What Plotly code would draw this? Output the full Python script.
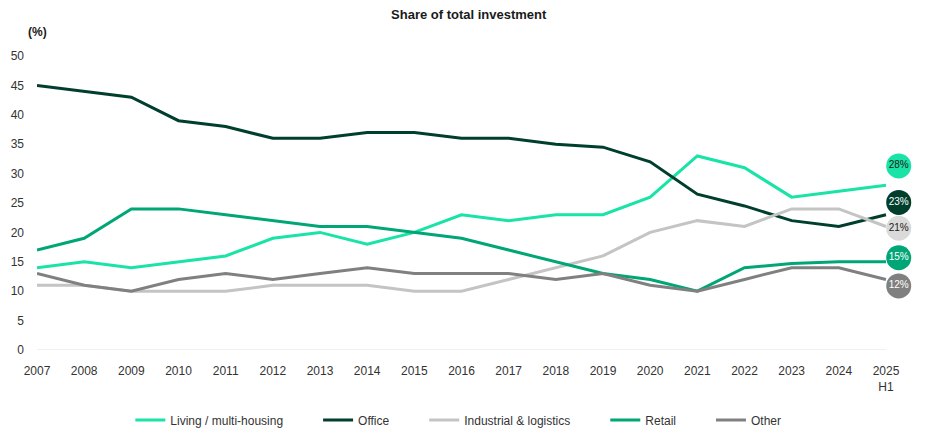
import plotly.graph_objects as go

years = list(range(2007, 2026))
tick_text = [str(y) for y in range(2007, 2025)] + ["2025<br>H1"]

living = [14, 15, 14, 15, 16, 19, 20, 18, 20, 23, 22, 23, 23, 26, 33, 31, 26, 27, 28]
office = [45, 44, 43, 39, 38, 36, 36, 37, 37, 36, 36, 35, 34.5, 32, 26.5, 24.5, 22, 21, 23]
industrial = [11, 11, 10, 10, 10, 11, 11, 11, 10, 10, 12, 14, 16, 20, 22, 21, 24, 24, 21]
retail = [17, 19, 24, 24, 23, 22, 21, 21, 20, 19, 17, 15, 13, 12, 10, 14, 14.7, 15, 15]
other = [13, 11, 10, 12, 13, 12, 13, 14, 13, 13, 13, 12, 13, 11, 10, 12, 14, 14, 12]

names = ["Living / multi-housing", "Office", "Industrial & logistics", "Retail", "Other"]
series = [living, office, industrial, retail, other]
colors = ["#19E3A6", "#003F2D", "#C4C4C4", "#00A676", "#808080"]
bubble_fill = ["#19E3A6", "#003F2D", "#DADADA", "#00A676", "#808080"]
bubble_text_color = ["#1a1a1a", "#ffffff", "#1a1a1a", "#ffffff", "#ffffff"]
final_labels = ["28%", "23%", "21%", "15%", "12%"]
# label positions (dodged to avoid overlap)
label_y = [31.3, 25.1, 20.7, 15.7, 10.9]
label_x = 2025.27

fig = go.Figure()
for name, vals, col in zip(names, series, colors):
    fig.add_trace(go.Scatter(
        x=years, y=vals, mode="lines", name=name + "         ",
        line=dict(color=col, width=3),
        hoverinfo="skip",
    ))

fig.add_trace(go.Scatter(
    x=[label_x] * len(label_y), y=label_y, mode="markers+text",
    marker=dict(size=25, color=bubble_fill, line=dict(width=0)),
    text=final_labels, textposition="middle center",
    textfont=dict(size=10, color=bubble_text_color, family="Liberation Sans"),
    showlegend=False, cliponaxis=False, hoverinfo="skip",
))

fig.add_shape(type="line", xref="x", yref="y", x0=years[0], x1=years[-1], y0=0, y1=0,
              line=dict(color="#E0E0E0", width=1), layer="below")

fig.update_layout(
    width=927, height=441,
    margin=dict(l=29, r=16, t=48, b=99, autoexpand=False),
    paper_bgcolor="white", plot_bgcolor="white",
    font=dict(family="Liberation Sans", size=12, color="#333333"),
    title=dict(text="<b>Share of total investment</b>", x=0.497, xanchor="center",
               y=0.986, yanchor="middle", font=dict(size=13, color="#1a1a1a")),
    xaxis=dict(
        range=[2007, 2025.7], tickmode="array", tickvals=years, ticktext=tick_text,
        showgrid=False, zeroline=False, showline=False,
        ticks="", ticklabelstandoff=12, tickfont=dict(size=12, color="#333333"),
    ),
    yaxis=dict(
        range=[0, 50], tickmode="array", tickvals=list(range(0, 55, 5)),
        showgrid=False, zeroline=False, showline=False, ticks="",
        ticklabelstandoff=12, tickfont=dict(size=12, color="#333333"),
    ),
    legend=dict(orientation="h", x=0.502, xanchor="center", y=-0.238, yanchor="middle",
                xref="container", font=dict(size=12, color="#333333"), itemwidth=30,
                traceorder="normal"),
    annotations=[dict(text="<b>(%)</b>", xref="paper", yref="paper", x=-0.0, y=1.082,
                      xanchor="center", yanchor="middle", showarrow=False,
                      font=dict(size=12, color="#1a1a1a"))],
)

fig.write_html("out.html")
